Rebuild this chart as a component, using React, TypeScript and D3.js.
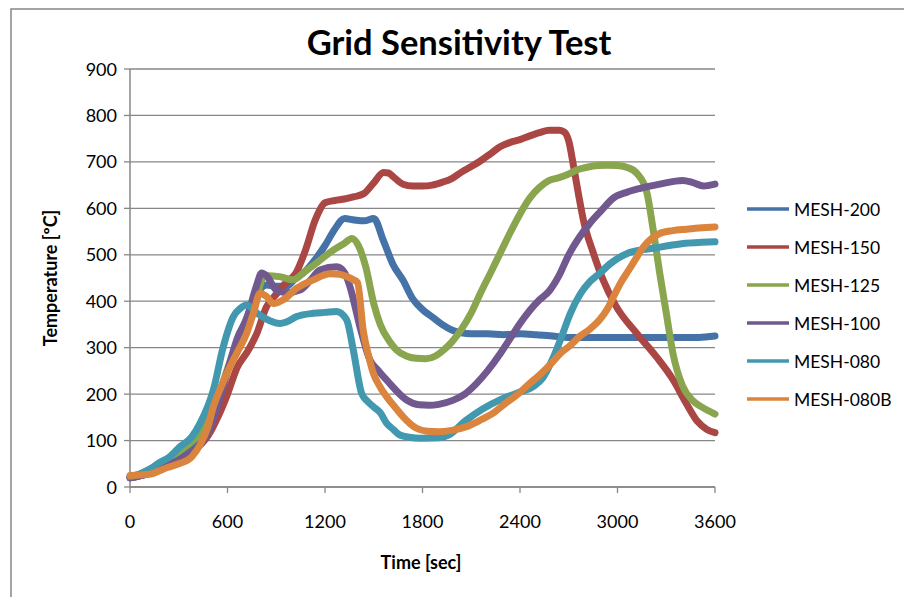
import React from "react";
import * as d3 from "d3";

const seriesNames = ["MESH-200", "MESH-150", "MESH-125", "MESH-100", "MESH-080", "MESH-080B"];
const seriesColors = ["#4572A7", "#AA4643", "#89A54E", "#71588F", "#4198AF", "#DB843D"];

const xTicks = [0, 600, 1200, 1800, 2400, 3000, 3600];
const yTicks = [0, 100, 200, 300, 400, 500, 600, 700, 800, 900];

// MESH-200
const mesh200Time = [0, 60, 120, 180, 240, 300, 360, 420, 480, 540, 600, 660, 720, 780, 840, 900, 960, 1020, 1080, 1140, 1200, 1260, 1320, 1380, 1440, 1500, 1560, 1620, 1680, 1740, 1800, 1860, 1920, 1980, 2040, 2100, 2200, 2300, 2400, 2500, 2600, 2700, 2800, 2900, 3000, 3100, 3200, 3300, 3400, 3500, 3600];
const mesh200Temp = [20, 24, 30, 40, 52, 65, 80, 98, 130, 185, 250, 310, 365, 415, 435, 432, 432, 450, 465, 490, 520, 555, 578, 575, 573, 578, 530, 478, 445, 405, 382, 366, 350, 338, 332, 330, 330, 328, 330, 328, 325, 322, 322, 322, 322, 322, 322, 322, 322, 322, 325];

// MESH-150
const mesh150Time = [0, 60, 120, 180, 240, 300, 360, 420, 480, 540, 600, 660, 720, 780, 840, 900, 960, 1020, 1080, 1140, 1200, 1260, 1320, 1380, 1440, 1500, 1560, 1590, 1620, 1680, 1740, 1800, 1860, 1920, 1980, 2040, 2100, 2160, 2220, 2280, 2340, 2400, 2460, 2520, 2580, 2640, 2670, 2700, 2730, 2760, 2790, 2850, 2910, 2990, 3120, 3240, 3340, 3420, 3490, 3550, 3600];
const mesh150Temp = [20, 24, 30, 38, 48, 58, 70, 86, 110, 150, 200, 258, 290, 330, 388, 415, 440, 460, 510, 575, 612, 617, 620, 625, 632, 655, 677, 676, 668, 652, 648, 648, 650, 656, 664, 678, 690, 703, 718, 733, 742, 748, 756, 763, 768, 768, 765, 745, 690, 630, 575, 505, 447, 390, 330, 280, 232, 182, 142, 124, 117];

// MESH-125
const mesh125Time = [0, 60, 120, 180, 240, 300, 360, 420, 480, 540, 600, 660, 720, 780, 810, 840, 920, 1000, 1080, 1140, 1200, 1260, 1320, 1365, 1405, 1450, 1500, 1540, 1600, 1640, 1700, 1760, 1820, 1880, 1920, 1980, 2040, 2100, 2160, 2220, 2280, 2340, 2400, 2460, 2520, 2580, 2640, 2700, 2760, 2820, 2880, 2940, 3000, 3060, 3120, 3180, 3220, 3260, 3300, 3340, 3400, 3460, 3520, 3600];
const mesh125Temp = [22, 28, 38, 50, 62, 76, 92, 110, 140, 190, 255, 310, 360, 405, 445, 455, 453, 446, 465, 480, 497, 512, 525, 535, 520, 475, 395, 350, 312, 295, 282, 277, 276, 282, 292, 312, 340, 375, 420, 462, 505, 548, 588, 622, 645, 660, 666, 674, 684, 689, 692, 693, 692, 688, 675, 635, 553, 460, 375, 290, 218, 187, 172, 157];

// MESH-100
const mesh100Time = [0, 60, 120, 180, 240, 300, 360, 420, 480, 540, 600, 660, 720, 780, 810, 840, 900, 960, 1046, 1110, 1169, 1272, 1320, 1354, 1415, 1477, 1530, 1580, 1700, 1780, 1840, 1900, 1990, 2060, 2130, 2200, 2280, 2340, 2400, 2460, 2520, 2580, 2640, 2700, 2760, 2830, 2900, 2974, 3060, 3140, 3260, 3400, 3460, 3530, 3600];
const mesh100Temp = [20, 24, 30, 38, 48, 58, 70, 88, 115, 175, 250, 320, 365, 435, 461, 455, 424, 418, 424, 445, 467, 474, 462, 431, 345, 273, 250, 230, 188, 177, 176, 178, 187, 200, 222, 250, 288, 320, 352, 380, 403, 422, 455, 500, 535, 568, 595, 622, 635, 643, 652, 660, 656, 648, 652];

// MESH-080
const mesh080Time = [0, 60, 120, 180, 240, 308, 380, 431, 513, 574, 636, 680, 718, 770, 800, 860, 923, 960, 1026, 1128, 1200, 1272, 1333, 1374, 1425, 1460, 1497, 1540, 1580, 1620, 1661, 1720, 1790, 1900, 1960, 2070, 2170, 2280, 2380, 2480, 2540, 2600, 2650, 2710, 2770, 2830, 2890, 2960, 3060, 3140, 3220, 3320, 3420, 3520, 3600];
const mesh080Temp = [22, 28, 38, 52, 64, 87, 108, 137, 209, 302, 367, 385, 392, 378, 370, 358, 352, 355, 367, 374, 376, 378, 360, 295, 202, 185, 173, 160, 137, 124, 112, 107, 105, 106, 112, 144, 168, 188, 202, 216, 235, 275, 318, 374, 415, 442, 460, 482, 503, 510, 514, 520, 525, 527, 528];

// MESH-080B
const mesh080bTime = [0, 60, 130, 180, 230, 308, 380, 430, 480, 513, 560, 615, 660, 718, 760, 800, 840, 882, 943, 1026, 1128, 1231, 1290, 1333, 1370, 1400, 1436, 1470, 1497, 1540, 1580, 1640, 1681, 1760, 1830, 1900, 1980, 2070, 2150, 2235, 2310, 2380, 2450, 2520, 2590, 2650, 2710, 2770, 2830, 2890, 2940, 2980, 3020, 3060, 3110, 3160, 3210, 3260, 3340, 3425, 3520, 3600];
const mesh080bTemp = [25, 26, 28, 35, 42, 51, 65, 90, 130, 173, 215, 259, 290, 331, 375, 417, 410, 395, 403, 428, 446, 459, 458, 453, 447, 440, 335, 280, 245, 215, 194, 168, 151, 127, 120, 119, 122, 130, 143, 159, 180, 198, 220, 241, 265, 288, 305, 325, 340, 360, 385, 413, 440, 462, 490, 517, 535, 546, 552, 555, 558, 560];

const seriesTimes = [mesh200Time, mesh150Time, mesh125Time, mesh100Time, mesh080Time, mesh080bTime];
const seriesTemps = [mesh200Temp, mesh150Temp, mesh125Temp, mesh100Temp, mesh080Temp, mesh080bTemp];

const FONT = "Lato, Carlito, Calibri, 'Open Sans', sans-serif";
const GRID = "#878787";

export default function App() {
  const x = d3.scaleLinear().domain([0, 3600]).range([130, 715]);
  const y = d3.scaleLinear().domain([0, 900]).range([487, 69]);
  const line = d3
    .line<[number, number]>()
    .x((d) => x(d[0]))
    .y((d) => y(d[1]))
    .curve(d3.curveMonotoneX);

  const legendY0 = 209;
  const legendStep = 38;

  return (
    <svg
      width={904}
      height={597}
      style={{ position: "absolute", left: 0, top: 0, background: "#fff" }}
      fontFamily={FONT}
    >
      <rect x={0} y={0} width={904} height={597} fill="#fff" />
      <rect x={11} y={9} width={910} height={600} fill="#fff" stroke={GRID} strokeWidth={1.5} />

      {/* gridlines */}
      {yTicks.map((t) => (
        <line key={"g" + t} x1={x(0)} x2={x(3600)} y1={y(t)} y2={y(t)} stroke={GRID} strokeWidth={1.3} />
      ))}
      {/* y axis */}
      <line x1={x(0)} x2={x(0)} y1={y(0)} y2={y(900)} stroke={GRID} strokeWidth={1.5} />
      {yTicks.map((t) => (
        <line key={"yt" + t} x1={x(0) - 6} x2={x(0)} y1={y(t)} y2={y(t)} stroke={GRID} strokeWidth={1.3} />
      ))}
      {yTicks.map((t) => (
        <text key={"yl" + t} x={117} y={y(t) + 6.5} textAnchor="end" fontSize={18} fill="#000">
          {t}
        </text>
      ))}
      {/* x axis */}
      <line x1={x(0)} x2={x(3600)} y1={y(0)} y2={y(0)} stroke={GRID} strokeWidth={1.5} />
      {xTicks.map((t) => (
        <line key={"xt" + t} x1={x(t)} x2={x(t)} y1={y(0)} y2={y(0) + 6} stroke={GRID} strokeWidth={1.3} />
      ))}
      {xTicks.map((t) => (
        <text key={"xl" + t} x={x(t)} y={528} textAnchor="middle" fontSize={18} fill="#000">
          {t}
        </text>
      ))}

      {/* series */}
      {seriesNames.map((name, i) => {
        const pts: [number, number][] = seriesTimes[i].map((t, j) => [t, seriesTemps[i][j]]);
        return (
          <path
            key={name}
            d={line(pts) || ""}
            fill="none"
            stroke={seriesColors[i]}
            strokeWidth={7}
            strokeLinejoin="round"
            strokeLinecap="round"
          />
        );
      })}

      {/* titles */}
      <text x={459} y={55} textAnchor="middle" fontSize={34.5} fontWeight="bold" fill="#000">
        Grid Sensitivity Test
      </text>
      <text x={421} y={569} textAnchor="middle" fontSize={18} fontWeight="bold" fill="#000">
        Time [sec]
      </text>
      <text
        transform={`translate(57,278) rotate(-90)`}
        textAnchor="middle"
        fontSize={18}
        fontWeight="bold"
        fill="#000"
      >
        Temperature [ºC]
      </text>

      {/* legend */}
      {seriesNames.map((name, i) => (
        <g key={"lg" + name}>
          <line
            x1={747}
            x2={789}
            y1={legendY0 + i * legendStep}
            y2={legendY0 + i * legendStep}
            stroke={seriesColors[i]}
            strokeWidth={3.5}
          />
          <text x={794} y={legendY0 + i * legendStep + 6.5} fontSize={17.5} fill="#000">
            {name}
          </text>
        </g>
      ))}
    </svg>
  );
}
